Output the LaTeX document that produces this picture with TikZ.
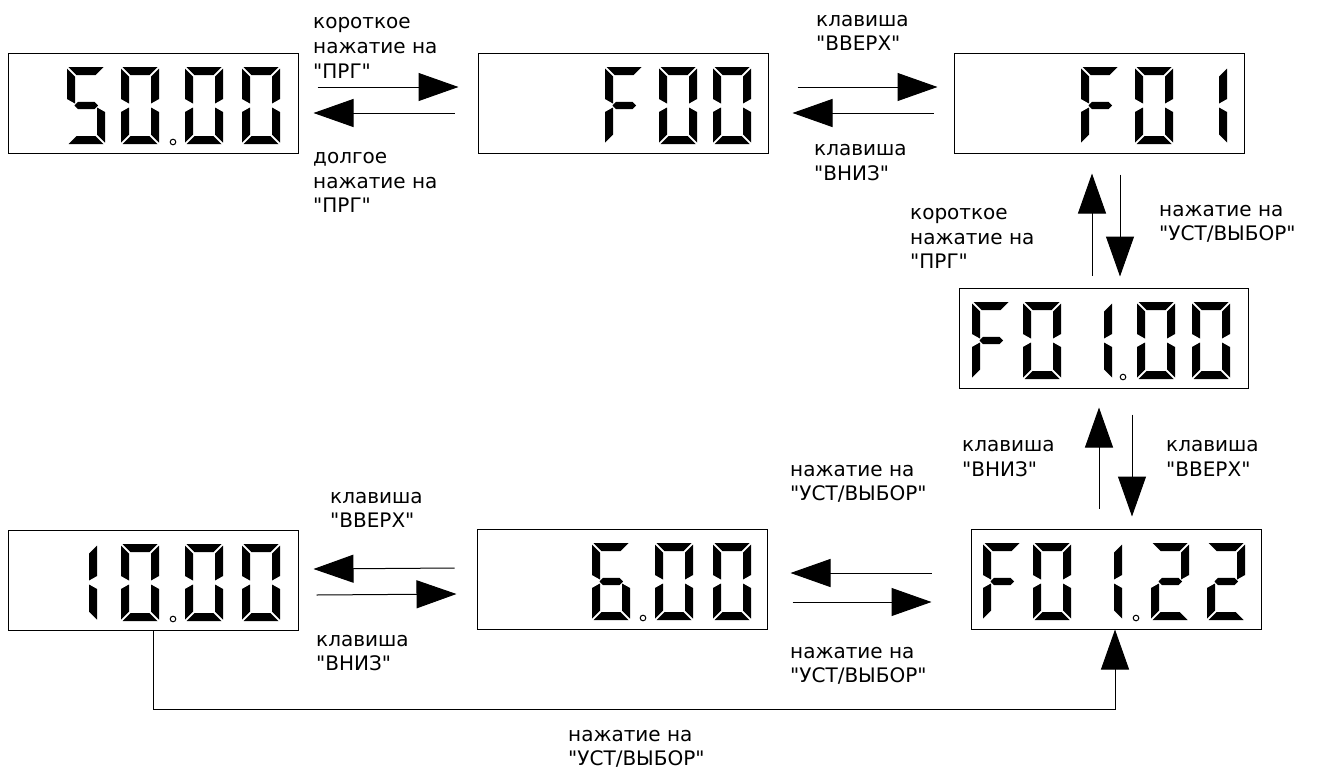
\documentclass[tikz,border=0pt]{standalone}
\usepackage{fontspec}
\newfontfamily\lblfont{DejaVu Sans}
\usetikzlibrary{arrows.meta}
% seven-segment pieces (digit cell 38 x 77)
\newcommand\ssA{\fill (1.5,0) -- (36.5,0) -- (28.5,8) -- (9.5,8) -- cycle;}
\newcommand\ssB{\fill (38,1.5) -- (30,9.5) -- (30,36.5) -- (38,32) -- cycle;}
\newcommand\ssC{\fill (38,45) -- (30,40.5) -- (30,67.5) -- (38,75.5) -- cycle;}
\newcommand\ssD{\fill (1.5,77) -- (36.5,77) -- (28.5,69) -- (9.5,69) -- cycle;}
\newcommand\ssE{\fill (0,45) -- (8,40.5) -- (8,67.5) -- (0,75.5) -- cycle;}
\newcommand\ssF{\fill (0,1.5) -- (8,9.5) -- (8,36.5) -- (0,32) -- cycle;}
\newcommand\ssG{\fill (7.5,38.5) -- (11,34.8) -- (27.5,34.8) -- (31,38.5) -- (27.5,42.2) -- (11,42.2) -- cycle;}
\def\dgZero{A,B,C,D,E,F}
\def\dgOne{B,C}
\def\dgTwo{A,B,G,E,D}
\def\dgFive{A,F,G,C,D}
\def\dgSix{A,F,G,E,D,C}
\def\dgEff{A,F,G,E}
\newcommand\sdig[3]{\begin{scope}[shift={(#1,#2)}]\foreach \q in #3 {\csname ss\q\endcsname}\end{scope}}
\newcommand\sdot[2]{\draw[line width=1pt,fill=white] (#1,#2) circle[radius=2.8];}
\begin{document}
\begin{tikzpicture}[x=1pt,y=-1pt,
  box/.style={draw,line width=1pt,minimum width=290pt,minimum height=100pt,inner sep=0pt},
  arr/.style={line width=1pt,-{Triangle[length=40pt,width=28pt]}},
  lbl/.style={anchor=base west,inner sep=0pt,font=\lblfont\fontsize{20}{25}\selectfont}]
\useasboundingbox (0,0) rectangle (1318,769);
% boxes
\node[box] (b1) at (153,103) {};
\node[box] (b2) at (623,103) {};
\node[box] (b3) at (1099,103) {};
\node[box,minimum width=289pt] (b4) at (1103.5,338) {};
\node[box] (b5) at (1116,579) {};
\node[box] (b6) at (622,579) {};
\node[box] (b7) at (153,580) {};
% digits
\sdig{67}{67}{\dgFive}\sdig{121}{67}{\dgZero}\sdot{173}{142}\sdig{185}{67}{\dgZero}\sdig{242}{67}{\dgZero}
\sdig{605}{67}{\dgEff}\sdig{659}{67}{\dgZero}\sdig{713}{67}{\dgZero}
\sdig{1081}{67}{\dgEff}\sdig{1135}{67}{\dgZero}\sdig{1189}{67}{\dgOne}
\sdig{972}{302}{\dgEff}\sdig{1023}{302}{\dgZero}\sdig{1074}{302}{\dgOne}\sdot{1123}{377}\sdig{1137}{302}{\dgZero}\sdig{1192}{302}{\dgZero}
\sdig{983}{543}{\dgEff}\sdig{1033}{543}{\dgZero}\sdig{1084}{543}{\dgOne}\sdot{1136}{618}\sdig{1151}{543}{\dgTwo}\sdig{1207}{543}{\dgTwo}
\sdig{592}{543}{\dgSix}\sdot{643}{618}\sdig{655}{543}{\dgZero}\sdig{713}{543}{\dgZero}
\sdig{59}{544}{\dgOne}\sdig{121}{544}{\dgZero}\sdot{173}{619}\sdig{185}{544}{\dgZero}\sdig{242}{544}{\dgZero}
% connectors
\draw[arr] ([xshift=19pt,yshift=16pt]b1.east) -- ([xshift=-19pt,yshift=16pt]b2.west);
\draw[arr] ([xshift=-23pt,yshift=-10pt]b2.west) -- ([xshift=15pt,yshift=-10pt]b1.east);
\draw[arr] ([xshift=29pt,yshift=16pt]b2.east) -- ([xshift=-16pt,yshift=16pt]b3.west);
\draw[arr] ([xshift=-20pt,yshift=-10pt]b3.west) -- ([xshift=24pt,yshift=-10pt]b2.east);
\draw[arr] ([xshift=-11.5pt,yshift=12pt]b4.north) -- ([xshift=-7pt,yshift=-20pt]b3.south);
\draw[arr] ([xshift=21pt,yshift=-21pt]b3.south) -- ([xshift=16.5pt,yshift=11pt]b4.north);
\draw[arr] ([xshift=-17pt,yshift=20pt]b5.north) -- ([xshift=-4.5pt,yshift=-19pt]b4.south);
\draw[arr] ([xshift=28.5pt,yshift=-26pt]b4.south) -- ([xshift=16pt,yshift=12pt]b5.north);
\draw[arr] ([xshift=-22pt,yshift=11pt]b6.west) -- ([xshift=15pt,yshift=11pt]b7.east);
\draw[arr] ([xshift=18pt,yshift=-15pt]b7.east) -- ([xshift=-20pt,yshift=-15pt]b6.west);
\draw[arr] ([xshift=-39pt,yshift=6pt]b5.west) -- ([xshift=23pt,yshift=6pt]b6.east);
\draw[arr] ([xshift=25pt,yshift=-23pt]b6.east) -- ([xshift=-39pt,yshift=-23pt]b5.west);
\draw[arr] (b7.south) -- ++(0,79) -| ([xshift=-1pt]b5.south);
% labels
\node[lbl] (t1a) at (313,28) {короткое};
\node[lbl] (t1b) at (313,53) {нажатие на};
\node[lbl] (t1c) at (313,78) {"ПРГ"};
\node[lbl] (t2a) at (313,163) {долгое};
\node[lbl] (t2b) at (313,188) {нажатие на};
\node[lbl] (t2c) at (313,212) {"ПРГ"};
\node[lbl] (t3a) at (816,26) {клавиша};
\node[lbl] (t3b) at (816,50) {"ВВЕРХ"};
\node[lbl] (t4a) at (814,155) {клавиша};
\node[lbl] (t4b) at (814,180) {"ВНИЗ"};
\node[lbl] (t5a) at (910,219) {короткое};
\node[lbl] (t5b) at (910,244) {нажатие на};
\node[lbl] (t5c) at (910,268) {"ПРГ"};
\node[lbl] (t6a) at (1159,216) {нажатие на};
\node[lbl] (t6b) at (1159,240) {"УСТ/ВЫБОР"};
\node[lbl] (t7a) at (962,451) {клавиша};
\node[lbl] (t7b) at (962,476) {"ВНИЗ"};
\node[lbl] (t8a) at (1166,451) {клавиша};
\node[lbl] (t8b) at (1166,476) {"ВВЕРХ"};
\node[lbl] (t9a) at (330,503) {клавиша};
\node[lbl] (t9b) at (330,527) {"ВВЕРХ"};
\node[lbl] (t10a) at (316,646) {клавиша};
\node[lbl] (t10b) at (316,670) {"ВНИЗ"};
\node[lbl] (t11a) at (790,476) {нажатие на};
\node[lbl] (t11b) at (790,500) {"УСТ/ВЫБОР"};
\node[lbl] (t12a) at (790,658) {нажатие на};
\node[lbl] (t12b) at (790,682) {"УСТ/ВЫБОР"};
\node[lbl] (t13a) at (568,741) {нажатие на};
\node[lbl] (t13b) at (568,765) {"УСТ/ВЫБОР"};
\end{tikzpicture}
\end{document}
